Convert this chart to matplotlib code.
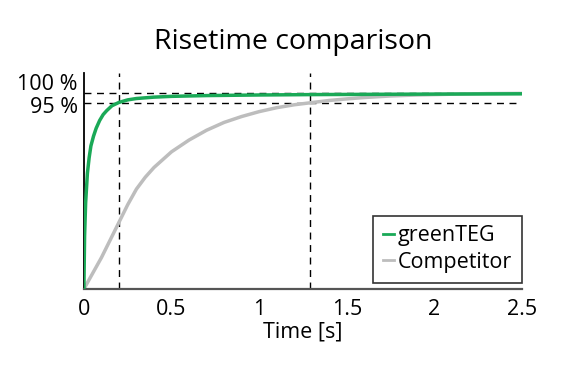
import matplotlib.pyplot as plt

plt.rcParams['font.family'] = ['Open Sans', 'DejaVu Sans']

# values (fraction of final value)
green_t = [0, 0.004, 0.01, 0.02, 0.03, 0.04, 0.055, 0.07, 0.09, 0.11, 0.13, 0.16, 0.2,
           0.25, 0.3, 0.4, 0.5, 0.7, 1.0, 1.3, 1.8, 2.5]
green_y = [0, 0.27, 0.44, 0.59, 0.67, 0.73, 0.78, 0.82, 0.86, 0.89, 0.91, 0.935, 0.952,
           0.965, 0.972, 0.979, 0.983, 0.987, 0.99, 0.992, 0.994, 0.996]

comp_t = [0, 0.05, 0.1, 0.15, 0.2, 0.25, 0.3, 0.35, 0.4, 0.45, 0.5, 0.6, 0.7, 0.8, 0.9,
          1.0, 1.1, 1.2, 1.29, 1.4, 1.5, 1.6, 1.75, 1.9, 2.1, 2.3, 2.5]
comp_y = [0, 0.08, 0.16, 0.25, 0.34, 0.43, 0.51, 0.57, 0.62, 0.66, 0.70, 0.76, 0.81, 0.85,
          0.88, 0.905, 0.925, 0.94, 0.95, 0.962, 0.97, 0.977, 0.985, 0.99, 0.994, 0.997, 0.998]

rise_green = 0.2
rise_comp = 1.29
levels = [1.0, 0.95]
level_labels = ['100 %', '95 %']
level_offsets = [6.1, -3.4]  # points, label centre relative to the line
xticks = [0, 0.5, 1, 1.5, 2, 2.5]

fig = plt.figure(figsize=(5.63, 3.67), dpi=100)
ax = fig.add_axes([0.149, 0.2125, 0.778, 0.5885])

for lv in levels:
    ax.axhline(lv, color='black', lw=1, ls=(0, (5, 4)), zorder=1)
for rt in [rise_green, rise_comp]:
    ax.axvline(rt, color='black', lw=1, ls=(0, (5, 4)), zorder=1)

ax.plot(green_t, green_y, color='#1aa957', lw=2.5, label='greenTEG', zorder=3)
ax.plot(comp_t, comp_y, color='#bdbdbd', lw=2.5, label='Competitor', zorder=2)

ax.set_xlim(0, 2.5)
ax.set_ylim(0, 1.102)
ax.set_xticks(xticks)
ax.set_xticklabels(['0', '0.5', '1', '1.5', '2', '2.5'])
ax.set_yticks([])
ax.tick_params(length=0, labelsize=15.5, pad=7)

for lv, lab, off in zip(levels, level_labels, level_offsets):
    ax.annotate(lab, xy=(0, lv), xycoords=('axes fraction', 'data'),
                xytext=(-4.3, off), textcoords='offset points',
                ha='right', va='center', fontsize=15.5)

ax.spines['top'].set_visible(False)
ax.spines['right'].set_visible(False)
ax.spines['left'].set_color('black')
ax.spines['left'].set_linewidth(1.3)
ax.spines['bottom'].set_color('#555555')
ax.spines['bottom'].set_linewidth(1.6)

ax.set_xlabel('Time [s]', fontsize=15.5, labelpad=1)
ax.set_title('Risetime comparison', fontsize=20.5, pad=17, x=0.477)

leg = ax.legend(loc='lower right', bbox_to_anchor=(1.0, 0.03), fontsize=15.5,
                handlelength=0.5, handletextpad=0.2, borderpad=0.45, labelspacing=0.25,
                fancybox=False, framealpha=1, borderaxespad=0)
leg.get_frame().set_edgecolor('#333333')
leg.get_frame().set_linewidth(1.2)
for h in leg.get_lines():
    h.set_linewidth(2)

plt.savefig('out.png', dpi=100)
